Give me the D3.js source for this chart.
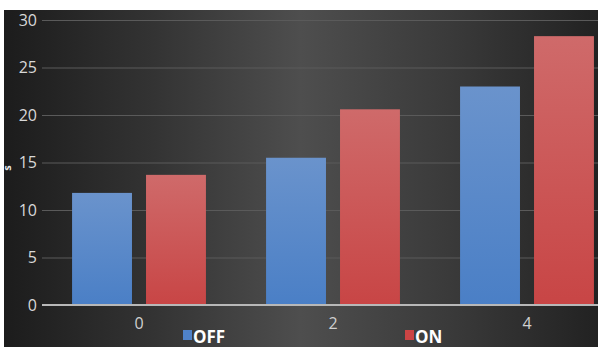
<!DOCTYPE html>
<html>
<head>
<meta charset="utf-8">
<script src="https://cdn.jsdelivr.net/npm/d3@7/dist/d3.min.js"></script>
<style>
  html, body { margin: 0; padding: 0; background: #fff; }
  svg { display: block; }
</style>
</head>
<body>
<script>
// Chart data
const categories = ["0", "2", "4"];
const offValues = [11.8, 15.5, 23.0];
const onValues = [13.7, 20.6, 28.3];
const seriesNames = ["OFF", "ON"];
const yTicks = [0, 5, 10, 15, 20, 25, 30];

const W = 598, H = 347;
const svg = d3.select("body").append("svg").attr("width", W).attr("height", H);
const defs = svg.append("defs");

// Dark panel background: darker edges, lighter centre
const bg = defs.append("linearGradient").attr("id", "bg").attr("x1", "0").attr("x2", "1").attr("y1", "0").attr("y2", "0");
[[0, "#1c1c1c"], [0.25, "#333"], [0.5, "#4e4e4e"], [0.75, "#3a3a3a"], [1, "#222"]]
  .forEach(([o, c]) => bg.append("stop").attr("offset", o).attr("stop-color", c));

const gOff = defs.append("linearGradient").attr("id", "gOff").attr("x1", 0).attr("x2", 0).attr("y1", 0).attr("y2", 1);
gOff.append("stop").attr("offset", 0).attr("stop-color", "#6a93cc");
gOff.append("stop").attr("offset", 1).attr("stop-color", "#4a7fc6");
const gOn = defs.append("linearGradient").attr("id", "gOn").attr("x1", 0).attr("x2", 0).attr("y1", 0).attr("y2", 1);
gOn.append("stop").attr("offset", 0).attr("stop-color", "#cf6a6a");
gOn.append("stop").attr("offset", 1).attr("stop-color", "#c84545");

svg.append("rect").attr("x", 4).attr("y", 10).attr("width", W - 4).attr("height", H - 10).attr("fill", "url(#bg)");

// Scales: the plot area runs past the right edge of the panel
const x0 = d3.scaleBand().domain(categories).range([42, 624]).paddingInner(0.31).paddingOuter(0.155);
const x1 = d3.scaleBand().domain(seriesNames).range([0, x0.bandwidth()]).paddingInner(0.19);
const y = d3.scaleLinear().domain([0, 30]).range([305, 20]);

const clip = defs.append("clipPath").attr("id", "panel");
clip.append("rect").attr("x", 4).attr("y", 10).attr("width", W - 4).attr("height", H - 10);
const plot = svg.append("g").attr("clip-path", "url(#panel)");

// Gridlines
const grid = plot.append("g").attr("transform", "translate(42,0)")
  .call(d3.axisLeft(y).tickValues(yTicks.filter(t => t > 0)).tickSize(-600).tickFormat(""));
grid.select(".domain").remove();
grid.selectAll("line").attr("stroke", "#5a5a5a").attr("stroke-width", 1);

// Bars
const rows = categories.map((c, i) => ({ cat: c, vals: [offValues[i], onValues[i]] }));
const grp = plot.selectAll("g.grp").data(rows).join("g").attr("class", "grp")
  .attr("transform", d => `translate(${x0(d.cat)},0)`);
grp.selectAll("rect").data(d => d.vals.map((v, j) => ({ s: seriesNames[j], v })))
  .join("rect")
  .attr("x", d => x1(d.s))
  .attr("width", x1.bandwidth())
  .attr("y", d => y(d.v))
  .attr("height", d => y(0) - y(d.v) + 1)
  .attr("fill", d => d.s === "OFF" ? "url(#gOff)" : "url(#gOn)");

// Baseline
plot.append("line").attr("x1", 42).attr("x2", W).attr("y1", y(0)).attr("y2", y(0))
  .attr("stroke", "#b8b8b8").attr("stroke-width", 2);

// Y axis labels
const yAxis = svg.append("g").attr("transform", "translate(40,0)")
  .call(d3.axisLeft(y).tickValues(yTicks).tickSize(0).tickPadding(3));
yAxis.select(".domain").remove();
yAxis.selectAll("text").attr("fill", "#d8d8d8").attr("font-family", "Open Sans, sans-serif").attr("font-size", 16);

// X axis labels
const xAxis = svg.append("g").attr("transform", `translate(0,${y(0)})`)
  .call(d3.axisBottom(x0).tickSize(0).tickPadding(13));
xAxis.select(".domain").remove();
xAxis.selectAll("text").attr("fill", "#d0d0d0").attr("font-family", "Open Sans, sans-serif").attr("font-size", 16);

// Axis title
svg.append("text").attr("transform", "translate(11,168) rotate(-90)")
  .attr("text-anchor", "middle").attr("fill", "#e8e8e8")
  .attr("font-family", "Open Sans, sans-serif").attr("font-size", 11).attr("font-weight", "bold").text("s");

// Legend
const legendX = [183, 405];
const legend = svg.selectAll("g.leg").data(seriesNames).join("g").attr("class", "leg")
  .attr("transform", (d, i) => `translate(${legendX[i]},0)`);
legend.append("rect").attr("x", 0).attr("y", 330).attr("width", 9).attr("height", 10)
  .attr("fill", d => d === "OFF" ? "#4f82c8" : "#cc4444");
legend.append("text").attr("x", 10).attr("y", 343).attr("fill", "#fff")
  .attr("font-family", "Open Sans, sans-serif").attr("font-size", 17).attr("font-weight", "bold")
  .text(d => d);
</script>
</body>
</html>
